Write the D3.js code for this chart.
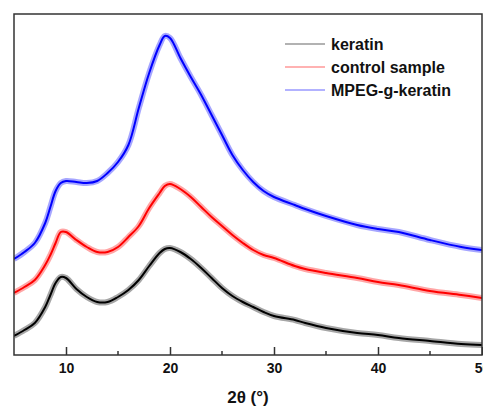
<!DOCTYPE html>
<html>
<head>
<meta charset="utf-8">
<script src="https://cdn.jsdelivr.net/npm/d3@7"></script>
<style>
  body { margin: 0; background: #fff; }
  text { font-family: "Liberation Sans", Arial, sans-serif; font-weight: bold; }
</style>
</head>
<body>
<svg id="chart" width="483" height="408"></svg>
<script>
// 2theta positions (deg) where the curves were read
const twoTheta = [5, 6, 7, 8, 8.5, 9, 9.5, 10, 11, 12, 13, 14, 15, 16, 17, 18, 19, 19.5, 20,
  21, 22, 23, 24, 25, 26, 27, 28, 29, 30, 32, 33, 35, 38, 40, 42, 45, 48, 50];

// intensities (a.u., offset stacked as in the figure)
const keratin = [19, 25, 32, 48, 60, 72, 78, 77, 66, 58, 53, 53, 58, 65, 75, 89, 102, 106, 107,
  103, 96, 87, 77, 67, 59, 53, 48, 43, 39, 35, 32, 27, 22, 20, 17, 14, 11, 10];
const controlSample = [62, 68, 75, 90, 100, 112, 123, 123, 115, 108, 103, 103, 108, 118, 129, 147, 162, 169, 171,
  166, 158, 148, 138, 129, 120, 112, 105, 100, 97, 89, 86, 82, 77, 73, 70, 64, 60, 57];
const mpegKeratin = [96, 103, 112, 132, 148, 164, 172, 174, 173, 172, 174, 182, 193, 210, 247, 282, 310, 319, 317,
  297, 278, 260, 240, 220, 200, 185, 173, 164, 158, 150, 146, 139, 130, 126, 123, 115, 108, 105];

const seriesNames = ["keratin", "control sample", "MPEG-g-keratin"];
const seriesColors = ["#000000", "#ff0000", "#0000ff"];
const xTicks = [10, 20, 30, 40, 50];
const xMinorTicks = [15, 25, 35, 45];

const margin = { top: 14, right: 1, bottom: 53, left: 14 };
const width = 483 - margin.left - margin.right;
const height = 408 - margin.top - margin.bottom;

const svg = d3.select("#chart");
const g = svg.append("g").attr("transform", "translate(" + margin.left + "," + margin.top + ")");

const x = d3.scaleLinear().domain([5, 50]).range([0, width]);
const y = d3.scaleLinear().domain([0, 341]).range([height, 0]);

const line = d3.line()
  .x(function(d) { return x(d[0]); })
  .y(function(d) { return y(d[1]); })
  .curve(d3.curveCatmullRom);

const allSeries = [keratin, controlSample, mpegKeratin];

g.append("clipPath").attr("id", "clip")
  .append("rect").attr("width", width).attr("height", height);

// curves: a soft wide band plus a solid core
allSeries.forEach(function(vals, i) {
  var pts = twoTheta.map(function(t, j) { return [t, vals[j]]; });
  g.append("path")
    .attr("d", line(pts))
    .attr("clip-path", "url(#clip)")
    .attr("fill", "none")
    .attr("stroke", seriesColors[i])
    .attr("stroke-opacity", 0.35)
    .attr("stroke-width", 6);
  g.append("path")
    .attr("d", line(pts))
    .attr("clip-path", "url(#clip)")
    .attr("fill", "none")
    .attr("stroke", seriesColors[i])
    .attr("stroke-width", 2);
});

// frame
g.append("rect")
  .attr("width", width)
  .attr("height", height)
  .attr("fill", "none")
  .attr("stroke", "#333")
  .attr("stroke-width", 1.5);

// x axis, ticks pointing inward
const xAxis = d3.axisBottom(x).tickValues(xTicks).tickSizeInner(-8).tickSizeOuter(0).tickPadding(8);
const ax = g.append("g").attr("transform", "translate(0," + height + ")").call(xAxis);
ax.select(".domain").remove();
ax.selectAll(".tick line").attr("stroke", "#333").attr("stroke-width", 1.5);
ax.selectAll(".tick text").attr("font-size", 14).attr("fill", "#111").style("font-weight", "bold");

g.append("g").selectAll("line")
  .data(xMinorTicks)
  .enter()
  .append("line")
  .attr("x1", function(d) { return x(d); })
  .attr("x2", function(d) { return x(d); })
  .attr("y1", height)
  .attr("y2", height - 4)
  .attr("stroke", "#333")
  .attr("stroke-width", 1.5);

// axis title
svg.append("text")
  .attr("x", margin.left + width / 2)
  .attr("y", 403)
  .attr("text-anchor", "middle")
  .attr("font-size", 17)
  .attr("fill", "#111")
  .text("2θ (°)");

// legend
const legend = svg.append("g").attr("transform", "translate(285,44)");
seriesNames.forEach(function(name, i) {
  var row = legend.append("g").attr("transform", "translate(0," + (i * 23) + ")");
  row.append("line")
    .attr("x1", 0).attr("x2", 40)
    .attr("stroke", seriesColors[i])
    .attr("stroke-opacity", 0.6)
    .attr("stroke-width", 1.2);
  row.append("text")
    .attr("x", 46)
    .attr("y", 6)
    .attr("font-size", 16)
    .attr("fill", "#111")
    .text(name);
});
</script>
</body>
</html>
